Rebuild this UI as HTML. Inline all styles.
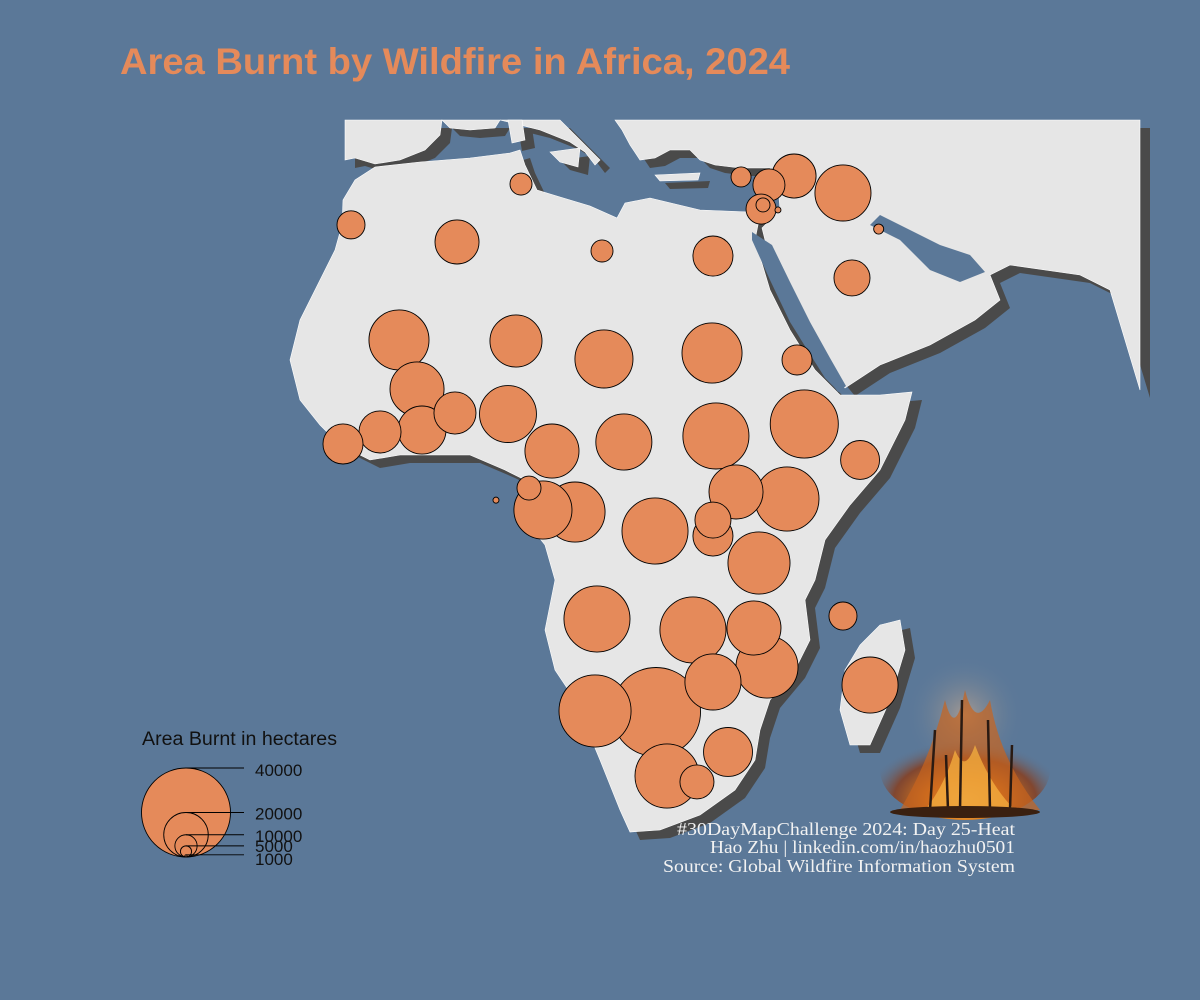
<!DOCTYPE html>
<html><head><meta charset="utf-8"><style>
html,body{margin:0;padding:0;background:#5b7898;}
svg{display:block;}
</style></head><body>
<svg id="map" width="1200" height="1000" viewBox="0 0 1200 1000">
<defs>
<radialGradient id="fireG" cx="50%" cy="80%" r="60%">
<stop offset="0" stop-color="#ffd060"/><stop offset="0.35" stop-color="#e0801f"/><stop offset="0.7" stop-color="#8a3a16" stop-opacity="0.8"/><stop offset="1" stop-color="#5b7898" stop-opacity="0"/>
</radialGradient>
<radialGradient id="smokeG" cx="50%" cy="50%" r="50%">
<stop offset="0" stop-color="#b8a290"/><stop offset="1" stop-color="#5b7898" stop-opacity="0"/>
</radialGradient>
</defs>
<rect width="1200" height="1000" fill="#5b7898"/>
<text x="120" y="74" font-family="Liberation Sans, sans-serif" font-weight="bold" font-size="37" textLength="670" lengthAdjust="spacingAndGlyphs" fill="#e58a5a">Area Burnt by Wildfire in Africa, 2024</text>
<g id="shadow" transform="translate(10,8)" fill="#4a4a4a"></g>
<g id="land" fill="#e6e6e6"></g>
<g id="water" fill="#5b7898"></g>
<g id="bubbles"></g>
<g id="legend">
<text x="142" y="745" font-family="Liberation Sans, sans-serif" font-size="19" textLength="195" lengthAdjust="spacingAndGlyphs" fill="#111">Area Burnt in hectares</text>
</g>
<g>
<ellipse cx="965" cy="715" rx="60" ry="60" fill="url(#smokeG)" opacity="0.8"/>
<ellipse cx="965" cy="770" rx="85" ry="50" fill="url(#fireG)"/>
<path d="M900 810 Q930 760 945 700 Q955 740 965 690 Q975 730 990 700 Q1000 760 1040 810 Z" fill="#c8641e" opacity="0.7"/>
<path d="M925 810 Q945 785 955 750 Q965 775 975 745 Q990 785 1015 810 Z" fill="#f5b040" opacity="0.75"/>
<g stroke="#2a1a12" stroke-width="2.5">
<line x1="930" y1="810" x2="935" y2="730"/><line x1="960" y1="810" x2="962" y2="700"/><line x1="990" y1="810" x2="988" y2="720"/><line x1="1010" y1="810" x2="1012" y2="745"/><line x1="948" y1="810" x2="946" y2="755"/>
</g>
<ellipse cx="965" cy="812" rx="75" ry="6" fill="#3a2010"/>
</g>
<g font-family="Liberation Serif, serif" font-size="18" fill="#f2f2f2" text-anchor="end">
<text x="1015" y="835" textLength="338" lengthAdjust="spacingAndGlyphs">#30DayMapChallenge 2024: Day 25-Heat</text>
<text x="1015" y="853" textLength="305" lengthAdjust="spacingAndGlyphs">Hao Zhu | linkedin.com/in/haozhu0501</text>
<text x="1015" y="872" textLength="352" lengthAdjust="spacingAndGlyphs">Source: Global Wildfire Information System</text>
</g>
</svg>
<script>
// ---- chart data ----
const countries = ["Morocco","Algeria","Tunisia","Libya","Egypt","Mali","Niger","Chad","Sudan","Eritrea","Burkina Faso","Benin","Ghana","Cote d'Ivoire","Liberia","Nigeria","Cameroon","CAR","South Sudan","Ethiopia","Somalia","Eq. Guinea","Sao Tome","Gabon","Congo","Uganda","Kenya","DR Congo","Rwanda","Burundi","Tanzania","Comoros","Angola","Zambia","Malawi","Mozambique","Zimbabwe","Madagascar","Namibia","Botswana","Eswatini","South Africa","Lesotho","Cyprus","Lebanon","Syria","Iraq","Israel","Palestine","Jordan","Kuwait","Saudi Arabia"];
const lons = [-9.14,2.26,9.14,17.85,29.78,-3.98,8.60,18.06,29.68,38.82,-2.04,2.04,-1.51,-6.02,-10.0,7.74,12.47,20.2,30.1,39.6,45.6,10.0,6.45,11.5,14.95,32.26,37.74,23.55,29.78,29.78,34.73,43.76,17.31,27.63,34.19,35.59,29.78,46.67,17.1,23.66,31.4,24.84,28.06,32.8,35.8,38.5,43.76,34.95,35.16,36.77,47.6,44.73];
const lats = [29.8,27.96,34.19,26.99,26.45,17.42,17.31,15.38,16.02,15.27,12.15,9.57,7.74,7.53,6.24,9.46,5.48,6.45,7.1,8.39,4.52,1.5,0.2,-0.86,-1.08,1.08,0.32,-3.12,-1.94,-3.66,-6.56,-12.26,-12.58,-13.76,-13.55,-17.74,-19.35,-19.68,-22.47,-22.58,-26.88,-29.46,-30.1,34.95,34.09,35.05,33.23,31.5,31.94,31.4,29.35,24.09];
const areas = [12600,19800,9900,9900,18000,27000,23400,26100,27000,13500,24300,18900,21600,18900,18000,25600,24300,25200,29700,30600,17500,10800,2700,26100,27000,24300,28800,29700,16200,18000,27900,12600,29700,29700,24300,27900,25200,25200,32400,40000,22000,28800,15300,9000,14400,19800,25200,13500,6300,2700,4500,16200];
const legendValues = [40000,20000,10000,5000,1000];
const legendLabels = ["40000","20000","10000","5000","1000"];

// ---- scales ----
const K = 9.3, X0 = 436, Y0 = 502;
const xScale = lon => X0 + K * lon;
const yScale = lat => Y0 - K * lat;
const rScale = v => 44.5 * v / 40000;
const NS = "http://www.w3.org/2000/svg";

// ---- geography (approximate outlines) ----
const landShapes = {
  "africa":"M343,200 L355,180 L375,167 L420,162 L470,158 L510,153 L520,150 L525,165 L537,190 L560,197 L590,206 L617,218 L625,203 L650,198 L700,210 L750,212 L760,215 L755,240 L770,290 L790,330 L815,370 L840,395 L880,395 L912,392 L905,420 L880,470 L850,505 L825,540 L815,580 L805,600 L810,640 L795,670 L770,700 L760,730 L755,760 L735,790 L700,815 L660,830 L630,832 L620,810 L600,760 L575,700 L555,670 L545,630 L555,580 L545,545 L525,520 L520,500 L525,480 L505,470 L470,455 L430,455 L400,455 L370,460 L340,445 L320,425 L300,400 L295,380 L290,360 L300,320 L320,280 L335,250 L342,225 Z",
  "madagascar":"M880,625 L900,620 L905,650 L890,700 L870,745 L850,745 L840,710 L845,670 L860,645 Z",
  "iberia":"M345,120 L442,120 L440,135 L425,150 L400,160 L375,164 L355,158 L345,160 Z",
  "france":"M442,120 L500,120 L495,128 L470,130 L450,128 Z",
  "italy":"M500,120 L560,120 L575,135 L590,150 L600,160 L595,165 L585,152 L570,142 L555,136 L540,130 L520,125 Z",
  "sardinia":"M508,120 L522,120 L525,140 L512,143 Z",
  "sicily":"M550,152 L580,148 L578,167 L560,162 Z",
  "crete":"M655,175 L700,173 L698,180 L660,181 Z",
  "eurasia-arabia":"M615,120 L1140,120 L1140,390 L1125,340 L1110,290 L1080,275 L1010,265 L990,275 L1000,300 L975,320 L930,345 L880,365 L845,388 L830,370 L810,330 L790,300 L770,260 L762,228 L780,210 L778,185 L770,168 L740,168 L715,165 L700,160 L690,150 L670,150 L655,158 L640,160 L630,145 L622,130 Z"
};
const waterShapes = {
  "persian-gulf":"M870,225 L900,240 L930,270 L960,282 L985,272 L970,255 L940,245 L910,230 L880,215 Z",
  "red-sea":"M752,232 L772,245 L790,282 L810,322 L830,358 L846,386 L838,392 L815,362 L790,322 L770,280 L752,240 Z"
};
const shadowG = document.getElementById('shadow');
const landG = document.getElementById('land');
const waterG = document.getElementById('water');
for (const k in landShapes) {
  const s = document.createElementNS(NS,'path');
  s.setAttribute('d', landShapes[k]);
  
  
  shadowG.appendChild(s);
  const p = document.createElementNS(NS,'path');
  p.setAttribute('d', landShapes[k]);
  p.setAttribute('stroke', '#ffffff');
  p.setAttribute('stroke-width', '0.6');
  
  
  landG.appendChild(p);
}
for (const k in waterShapes) {
  const w = document.createElementNS(NS,'path');
  w.setAttribute('d', waterShapes[k]);
  
  
  waterG.appendChild(w);
}

// ---- bubbles (largest first) ----
const order = areas.map((v,i)=>i).sort((a,b)=>areas[b]-areas[a]);
const bG = document.getElementById('bubbles');
order.forEach(i => {
  const c = document.createElementNS(NS,'circle');
  c.setAttribute('cx', xScale(lons[i]));
  c.setAttribute('cy', yScale(lats[i]));
  c.setAttribute('r', rScale(areas[i]));
  c.setAttribute('fill', '#e58a5a');
  c.setAttribute('stroke', '#000');
  c.setAttribute('stroke-width', '0.9');
  
  
  bG.appendChild(c);
});

// ---- legend ----
const lg = document.getElementById('legend');
const LCX = 186, LBOT = 857;
const labelOffsets = [8, 7, 7, 6, 10];
legendValues.forEach((v, i) => {
  const r = rScale(v);
  const c = document.createElementNS(NS,'circle');
  c.setAttribute('cx', LCX);
  c.setAttribute('cy', LBOT - r);
  c.setAttribute('r', r);
  c.setAttribute('fill', i === 0 ? '#e58a5a' : 'none');
  c.setAttribute('stroke', '#000');
  c.setAttribute('stroke-width', '0.9');
  
  
  lg.appendChild(c);
  const ln = document.createElementNS(NS,'line');
  ln.setAttribute('x1', LCX); ln.setAttribute('x2', 244);
  ln.setAttribute('y1', LBOT - 2*r); ln.setAttribute('y2', LBOT - 2*r);
  ln.setAttribute('stroke', '#000'); ln.setAttribute('stroke-width', '0.9');
  
  
  lg.appendChild(ln);
  const t = document.createElementNS(NS,'text');
  t.setAttribute('x', 255);
  t.setAttribute('y', LBOT - 2*r + labelOffsets[i]);
  t.setAttribute('font-family', 'Liberation Sans, sans-serif');
  t.setAttribute('font-size', '17');
  t.setAttribute('fill', '#111');
  t.textContent = legendLabels[i];
  
  
  lg.appendChild(t);
});
</script>
</body></html>
